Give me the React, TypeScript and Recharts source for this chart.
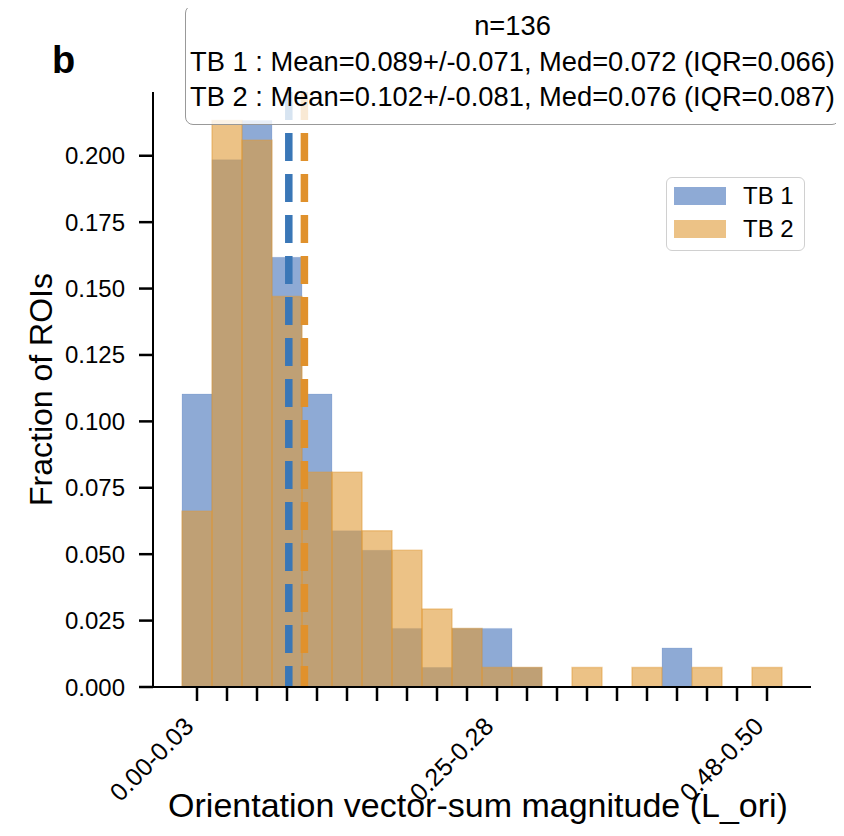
import React from "react";
import { ComposedChart, Bar, XAxis, YAxis, ReferenceLine, Legend, Label } from "recharts";

// 20 bins of width 0.025 over [0, 0.5]
const BIN_LABELS = [
  "0.00-0.03", "0.03-0.05", "0.05-0.08", "0.08-0.10", "0.10-0.13",
  "0.13-0.15", "0.15-0.18", "0.18-0.20", "0.20-0.23", "0.23-0.25",
  "0.25-0.28", "0.28-0.30", "0.30-0.33", "0.33-0.35", "0.35-0.38",
  "0.38-0.40", "0.40-0.43", "0.43-0.45", "0.45-0.48", "0.48-0.50",
];
const BIN_START = [
  0, 0.025, 0.05, 0.075, 0.1, 0.125, 0.15, 0.175, 0.2, 0.225,
  0.25, 0.275, 0.3, 0.325, 0.35, 0.375, 0.4, 0.425, 0.45, 0.475,
];
const SHOWN_LABELS = ["0.00-0.03", "0.25-0.28", "0.48-0.50"];

// ROI counts per bin
const N_ROIS = 136;
const TB1_COUNTS = [15, 27, 29, 22, 15, 8, 7, 3, 1, 3, 3, 1, 0, 0, 0, 0, 2, 0, 0, 0];
const TB2_COUNTS = [9, 29, 28, 20, 11, 11, 8, 7, 4, 3, 1, 1, 0, 1, 0, 1, 0, 1, 0, 1];

const TB1_MEAN = 0.089;
const TB2_MEAN = 0.102;

const Y_TICKS = [0, 0.025, 0.05, 0.075, 0.1, 0.125, 0.15, 0.175, 0.2];

const STATS_LINES = [
  "n=136",
  "TB 1 : Mean=0.089+/-0.071, Med=0.072 (IQR=0.066)",
  "TB 2 : Mean=0.102+/-0.081, Med=0.076 (IQR=0.087)",
];

const BLUE = "#4371b9";
const ORANGE = "#df9935";
const BLUE_LINE = "#3a77b7";
const ORANGE_LINE = "#e0912c";
const FONT = "'Liberation Sans', Arial, sans-serif";

const data = BIN_LABELS.map((bin, i) => ({
  bin,
  start: BIN_START[i],
  tb1: TB1_COUNTS[i] / N_ROIS,
  tb2: TB2_COUNTS[i] / N_ROIS,
}));

const PAD = { left: 29, right: 29 };

function BinTick(props: any) {
  const { x, y, payload } = props;
  if (!SHOWN_LABELS.includes(payload.value)) return null;
  return (
    <g transform={`translate(${x - 2},${y + 25})`}>
      <text textAnchor="end" transform="rotate(-45)" fontSize={25} fill="#000" fontFamily={FONT}>
        {payload.value}
      </text>
    </g>
  );
}

function LegendBox(props: any) {
  const items = props.payload || [];
  return (
    <div
      style={{
        position: "relative",
        width: 139,
        height: 74,
        boxSizing: "border-box",
        border: "1.5px solid #d0d0d0",
        borderRadius: 6,
        background: "#fff",
        fontFamily: FONT,
      }}
    >
      {items.map((entry: any, i: number) => (
        <div key={entry.value} style={{ position: "absolute", left: 0, top: 9 + i * 33, height: 18, width: 139 }}>
          <div
            style={{
              position: "absolute",
              left: 7,
              top: 0,
              width: 52,
              height: 18,
              background: entry.color,
              opacity: 0.6,
            }}
          />
          <div style={{ position: "absolute", left: 76, top: -4, fontSize: 24, lineHeight: "26px", color: "#000", whiteSpace: "nowrap" }}>
            {entry.value}
          </div>
        </div>
      ))}
    </div>
  );
}

export default function App() {
  return (
    <div style={{ position: "relative", width: 836, height: 828, fontFamily: FONT }}>
      <ComposedChart
        width={836}
        height={828}
        data={data}
        margin={{ top: 84, right: 33, bottom: 9, left: 25 }}
        barCategoryGap={0}
        barGap={0}
        style={{ fontFamily: FONT }}
      >
        <XAxis
          xAxisId="tb1"
          dataKey="bin"
          interval={0}
          padding={PAD}
          height={140}
          tickSize={14}
          tickLine={{ stroke: "#000", strokeWidth: 2.5 }}
          axisLine={{ stroke: "#000", strokeWidth: 2 }}
          tick={<BinTick />}
        >
          <Label
            content={(p: any) => {
              const vb = p.viewBox;
              return (
                <text x={vb.x + vb.width / 2 - 4} y={809} textAnchor="middle" fontSize={34} fill="#000" fontFamily={FONT}>
                  Orientation vector-sum magnitude (L_ori)
                </text>
              );
            }}
          />
        </XAxis>
        <XAxis xAxisId="tb2" dataKey="bin" padding={PAD} hide />
        <XAxis xAxisId="val" type="number" dataKey="start" domain={[0, 0.5]} padding={PAD} allowDataOverflow hide />
        <YAxis
          width={120}
          domain={[0, 0.224]}
          ticks={Y_TICKS}
          allowDataOverflow
          tickFormatter={(v: number) => v.toFixed(3)}
          tickSize={14}
          tickMargin={14}
          tick={{ fill: "#000", fontSize: 24, fontFamily: FONT }}
          tickLine={{ stroke: "#000", strokeWidth: 2.5 }}
          axisLine={{ stroke: "#000", strokeWidth: 2 }}
        >
          <Label
            content={(p: any) => {
              const vb = p.viewBox;
              const cy = vb.y + vb.height / 2;
              return (
                <text x={44} y={cy} transform={`rotate(-90, 44, ${cy})`} textAnchor="middle" fontSize={32} fill="#000" fontFamily={FONT}>
                  Fraction of ROIs
                </text>
              );
            }}
          />
        </YAxis>
        <Bar xAxisId="tb1" dataKey="tb1" name="TB 1" fill={BLUE} fillOpacity={0.6} stroke={BLUE} strokeOpacity={0.15} isAnimationActive={false} />
        <Bar xAxisId="tb2" dataKey="tb2" name="TB 2" fill={ORANGE} fillOpacity={0.6} stroke={ORANGE} strokeOpacity={0.45} strokeWidth={1.5} isAnimationActive={false} />
        <ReferenceLine xAxisId="val" x={TB1_MEAN} stroke={BLUE_LINE} strokeWidth={7.5} strokeDasharray="28 13" strokeDashoffset={7} />
        <ReferenceLine xAxisId="val" x={TB2_MEAN} stroke={ORANGE_LINE} strokeWidth={7.5} strokeDasharray="28 13" strokeDashoffset={7} />
        <Legend
          layout="vertical"
          align="center"
          verticalAlign="middle"
          wrapperStyle={{ top: 169, left: 658, width: 139 }}
          content={<LegendBox />}
        />
      </ComposedChart>

      <div
        style={{
          position: "absolute",
          left: 177,
          top: -3,
          width: 655,
          height: 120,
          boxSizing: "border-box",
          border: "1.5px solid #999",
          borderRadius: 8,
          background: "rgba(255,255,255,0.8)",
          paddingTop: 2,
          textAlign: "center",
          fontSize: 27.3,
          lineHeight: "35.5px",
          color: "#000",
          whiteSpace: "nowrap",
          zIndex: 2,
        }}
      >
        {STATS_LINES.map((line) => (
          <div key={line}>{line}</div>
        ))}
      </div>

      <div
        style={{
          position: "absolute",
          left: 44,
          top: 33,
          fontSize: 38,
          lineHeight: "38px",
          fontWeight: "bold",
          color: "#000",
        }}
      >
        b
      </div>
    </div>
  );
}
